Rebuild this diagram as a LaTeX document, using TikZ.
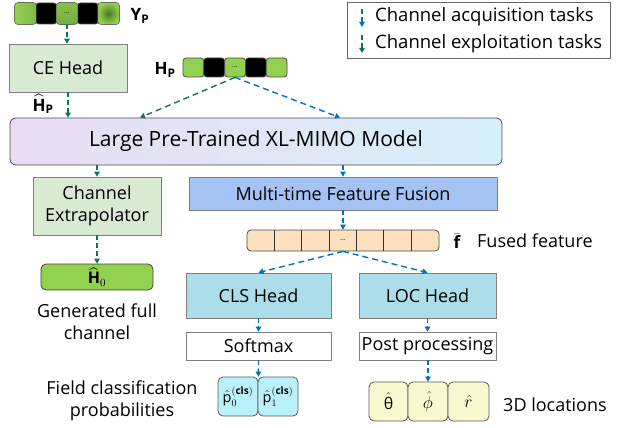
\documentclass[tikz,border=0pt]{standalone}
\usepackage{amsmath,amssymb,bm}
\usepackage{fontspec}
\setmainfont{Open Sans}
\usetikzlibrary{arrows.meta,positioning,calc}
\definecolor{acqblue}{RGB}{0,112,192}
\definecolor{explgreen}{RGB}{10,120,85}
\definecolor{sagegreen}{RGB}{217,234,211}
\definecolor{cellgreen}{RGB}{146,208,80}
\definecolor{darkgreen}{RGB}{70,120,35}
\definecolor{fusionblue}{RGB}{164,194,244}
\definecolor{headblue}{RGB}{174,221,234}
\definecolor{featpeach}{RGB}{252,225,190}
\definecolor{probcyan}{RGB}{186,240,250}
\definecolor{locyellow}{RGB}{250,248,206}
\definecolor{modelleft}{RGB}{234,220,243}
\definecolor{modelright}{RGB}{214,240,250}

\begin{document}
\begin{tikzpicture}[
  x=1pt, y=-1pt,
  >={Triangle[width=5.5pt,length=5pt]},
  txt/.style={font=\fontsize{18}{22}\selectfont, align=center, inner sep=0pt},
  mlab/.style={font=\fontsize{17}{20}\selectfont, inner sep=0pt},
  block/.style={draw=black!50, line width=0.8pt, align=center, inner sep=0pt,
                font=\fontsize{18}{22}\selectfont},
  cell/.style={draw=black!70, line width=0.8pt, rounded corners=3pt, inner sep=0pt,
               minimum width=20.8pt, font=\fontsize{7}{8}\selectfont},
  unit/.style={draw=black!65, line width=0.8pt, rounded corners=5pt, inner sep=0pt,
               font=\fontsize{14}{16}\selectfont},
  acq/.style={->, draw=acqblue, line width=1.4pt, dash pattern=on 6pt off 4pt},
  expl/.style={->, draw=explgreen, line width=1.4pt, dash pattern=on 6pt off 4pt},
  acqtip/.style={->, draw=acqblue, line width=1.4pt, dash pattern=on 5pt off 3pt},
  expltip/.style={->, draw=explgreen, line width=1.4pt, dash pattern=on 5pt off 3pt}
]
\useasboundingbox (0,0) rectangle (621,428);

%% ── Legend ──
\draw[black!60, line width=0.8pt] (347,2) rectangle (610,58);
\coordinate (la1) at (362,9);  \coordinate (la2) at (362,27);
\coordinate (lb1) at (362,35); \coordinate (lb2) at (362,53);
\draw[acqtip]  (la1) -- (la2);
\draw[expltip] (lb1) -- (lb2);
\node[txt, anchor=west, font=\fontsize{18.5}{22}\selectfont] (legacq) at (375,17) {Channel acquisition tasks};
\node[txt, anchor=west, font=\fontsize{18.5}{22}\selectfont] (legexp) at (375,44) {Channel exploitation tasks};

%% ── Pilot signal vector Y_P ──
\foreach \i in {1,...,5} {
  \node[cell, minimum height=21pt, fill=black] (yp\i) at ({15+10.4+20.8*(\i-1)},13.5) {};
}
\shade[rounded corners=3pt, left color=cellgreen, right color=cellgreen!75!darkgreen, draw=black!70]
  (yp1.north west) rectangle (yp1.south east);
\shade[rounded corners=3pt, top color=cellgreen!85!darkgreen, bottom color=cellgreen!60!darkgreen, draw=black!70]
  (yp3.north west) rectangle (yp3.south east);
\node[font=\fontsize{7}{8}\selectfont, inner sep=0pt] at (yp3) {...};
\shade[rounded corners=3pt, inner color=darkgreen, outer color=cellgreen, draw=black!70]
  (yp5.north west) rectangle (yp5.south east);
\node[mlab] (yplab) at (140,16) {$\mathbf{Y}_{\mathbf{P}}$};

%% ── Channel estimation head ──
\node[block, fill=sagegreen, minimum width=118pt, minimum height=48pt] (ce) at (68,68) {CE Head};
\node[mlab] (hplabhat) at (43,104) {$\widehat{\mathbf{H}}_{\mathbf{P}}$};

%% ── Pilot channel vector H_P ──
\foreach \i/\c in {1/cellgreen,2/black,3/cellgreen,4/black,5/cellgreen} {
  \node[cell, minimum height=19pt, fill=\c] (hp\i) at ({183+10.4+20.8*(\i-1)},67.5) {};
}
\node[font=\fontsize{7}{8}\selectfont, inner sep=0pt] at (hp3) {...};
\node[mlab] (hplab) at (165,70) {$\mathbf{H}_{\mathbf{P}}$};

%% ── Large model ──
\node[block, draw=black!70, rounded corners=6pt, left color=modelleft, right color=modelright,
      minimum width=492pt, minimum height=47pt, font=\fontsize{21}{25}\selectfont]
      (model) at (256,141.5) {Large Pre-Trained XL-MIMO Model};

%% ── Exploitation branch (left) ──
\node[block, fill=sagegreen, minimum width=128pt, minimum height=58pt] (extrap) at (97,206)
  {Channel\\Extrapolator};
\node[unit, draw=black!75, fill=cellgreen, minimum width=112pt, minimum height=26pt,
      font=\fontsize{16}{18}\selectfont] (hzero) at (97,277) {$\widehat{\mathbf{H}}_0$};
\node[txt] (genlab) at (97,322) {Generated full\\channel};

%% ── Acquisition branch (right) ──
\node[block, fill=fusionblue, minimum width=308pt, minimum height=33pt] (mff) at (343,193.5)
  {Multi-time Feature Fusion};
\node[draw=black!70, line width=0.8pt, rounded corners=4pt, fill=featpeach,
      minimum width=192pt, minimum height=21pt, inner sep=0pt] (fv) at (343,240.5) {};
\foreach \k in {1,...,6} {
  \draw[black!80, line width=0.6pt] ($(fv.north west)+({27.43*\k},0)$) -- ($(fv.south west)+({27.43*\k},0)$);
}
\node[font=\fontsize{7}{8}\selectfont, inner sep=0pt] at (fv) {...};
\node[mlab] (fbar) at (457,241) {$\bar{\mathbf{f}}$};
\node[txt, anchor=west] (fvlab) at (477,241) {Fused feature};

\node[block, fill=headblue, minimum width=145pt, minimum height=45pt] (cls) at (258.5,295.5) {CLS Head};
\node[block, fill=headblue, minimum width=137pt, minimum height=45pt] (loc) at (427.5,295.5) {LOC Head};
\node[block, fill=white, minimum width=145pt, minimum height=28pt] (softmax) at (258.5,346) {Softmax};
\node[block, fill=white, minimum width=137pt, minimum height=28pt] (post) at (427.5,346) {Post processing};

%% ── Outputs ──
\node[unit, fill=probcyan, minimum width=40pt, minimum height=39pt, font=\fontsize{14.5}{17}\selectfont]
  (p0) at (238,396.5) {$\hat{\text{p}}_0^{(\mathbf{cls})}$};
\node[unit, fill=probcyan, minimum width=40pt, minimum height=39pt, font=\fontsize{14.5}{17}\selectfont]
  (p1) at (278,396.5) {$\hat{\text{p}}_1^{(\mathbf{cls})}$};
\node[txt] (problab) at (122,401) {Field classification\\probabilities};

\node[unit, fill=locyellow, minimum width=39pt, minimum height=39pt, font=\fontsize{16}{18}\selectfont]
  (th) at (388.5,401.5) {$\hat{\text{θ}}$};
\node[unit, fill=locyellow, minimum width=40pt, minimum height=39pt, font=\fontsize{16}{18}\selectfont]
  (ph) at (428,401.5) {$\hat{\phi}$};
\node[unit, fill=locyellow, minimum width=41pt, minimum height=39pt, font=\fontsize{16}{18}\selectfont]
  (rr) at (468.5,401.5) {$\hat{r}$};
\node[txt, anchor=west] (loclab) at (503,405) {3D locations};

%% ── Exploitation arrows (green) ──
\draw[expltip] (yp3.south) -- (ce.north -| yp3.south);
\draw[expltip] (ce.south) -- (ce.south |- model.north);
\draw[expl] (hp3.south) -- ([xshift=-116pt]model.north);
\draw[expltip] (extrap.north |- model.south) -- (extrap.north);
\draw[expltip] (extrap.south) -- (hzero.north);

%% ── Acquisition arrows (blue) ──
\draw[acq] (hp3.south) -- ([xshift=84pt]model.north);
\draw[acqtip] (mff.north |- model.south) -- (mff.north);
\draw[acqtip] (mff.south) -- (fv.north);
\draw[acq] (fv.south) -- (cls.north);
\draw[acq] (fv.south) -- (loc.north);
\draw[acqtip] (cls.south) -- (softmax.north);
\draw[acqtip] (loc.south) -- (post.north);
\draw[acqtip] (softmax.south) -- (p0.north east);
\draw[acqtip] (post.south -| ph.north) -- (ph.north);

\end{tikzpicture}
\end{document}
